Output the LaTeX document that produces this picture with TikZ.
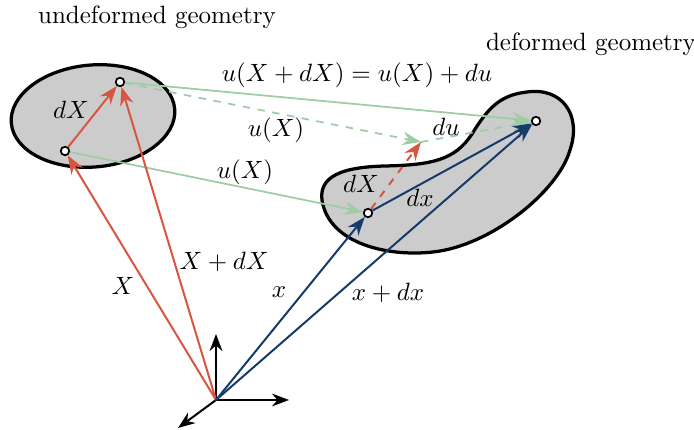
\documentclass[tikz,border=0pt]{standalone}
\usepackage{amsmath}
\usetikzlibrary{
  arrows.meta,
  positioning,
  calc
}
\definecolor{RefRed}{RGB}{216,86,64}
\definecolor{CurBlue}{RGB}{22,58,105}
\definecolor{DispGreen}{RGB}{158,204,164}
\definecolor{BodyGray}{RGB}{204,204,204}
\tikzset{
  body/.style={draw=black,line width=1.3pt,fill=BodyGray},
  matpt/.style={circle,draw=black,fill=white,line width=0.7pt,inner sep=0pt,minimum size=3.4pt},
  refvec/.style={-{Stealth[length=2.6mm,width=1.9mm]},line width=0.8pt,draw=RefRed},
  curvec/.style={-{Stealth[length=2.6mm,width=1.9mm]},line width=0.8pt,draw=CurBlue},
  dispvec/.style={-{Stealth[length=2.6mm,width=1.9mm]},line width=0.7pt,draw=DispGreen},
  axisvec/.style={-{Stealth[length=2.4mm,width=1.8mm]},line width=0.8pt,draw=black},
  lbl/.style={font=\normalsize,inner sep=1pt}
}

\begin{document}
\begin{tikzpicture}[x=0.4pt,y=-0.4pt]
\useasboundingbox (0,0) rectangle (694,430);

% bodies
\draw[body] (93,116) ellipse [x radius=32.8pt, y radius=20.4pt, rotate=5];
\draw[body] (527,92) .. controls (562,87) and (582,115) .. (570,150)
  .. controls (558,192) and (490,246) .. (433,252)
  .. controls (388,257) and (333,244) .. (323,205)
  .. controls (315,175) and (345,167) .. (385,166)
  .. controls (432,165) and (455,160) .. (472,134)
  .. controls (488,108) and (500,95) .. (527,92) -- cycle;

% material points
\node[matpt] (P1) at (65,151) {};
\node[matpt] (P2) at (120,82) {};
\node[matpt] (Q1) at (368,213) {};
\node[matpt] (Q2) at (536,121) {};
\coordinate (R) at (421,142);

% axes
\coordinate (O) at (216,400);
\coordinate (ey) at (216,334);
\coordinate (ex) at (289,400);
\coordinate (ez) at (178,428);
\draw[axisvec] (O) -- (ey);
\draw[axisvec] (O) -- (ex);
\draw[axisvec] (O) -- (ez);

% displacements
\draw[dispvec] (P1) -- (Q1);
\draw[dispvec] (P2) -- (Q2);
\draw[dispvec,dashed] (P2) -- (R);
\draw[dispvec,dashed] (R) -- (Q2);

% position vectors
\draw[refvec] (O) -- (P1);
\draw[refvec] (O) -- (P2);
\draw[refvec] (P1) -- (P2);
\draw[refvec,dashed] (Q1) -- (R);
\draw[curvec] (O) -- (Q1);
\draw[curvec] (O) -- (Q2);
\draw[curvec] (Q1) -- (Q2);

% labels
\node[lbl] (undef) at (157,17) {undeformed geometry};
\node[lbl] (def) at (591,44) {deformed geometry};
\node[lbl] (uXdX) at (357,75) {$u(X+dX)=u(X)+du$};
\node[lbl] (uXa) at (276,130) {$u(X)$};
\node[lbl] (du) at (446,127) {$du$};
\node[lbl] (uXb) at (245,172) {$u(X)$};
\node[lbl] (dXa) at (71,110) {$dX$};
\node[lbl] (dXb) at (361,184) {$dX$};
\node[lbl] (dx) at (420,198) {$dx$};
\node[lbl] (X) at (123,286) {$X$};
\node[lbl] (XdX) at (224,262) {$X+dX$};
\node[lbl] (x) at (279,292) {$x$};
\node[lbl] (xdx) at (388,293) {$x+dx$};
\end{tikzpicture}
\end{document}
